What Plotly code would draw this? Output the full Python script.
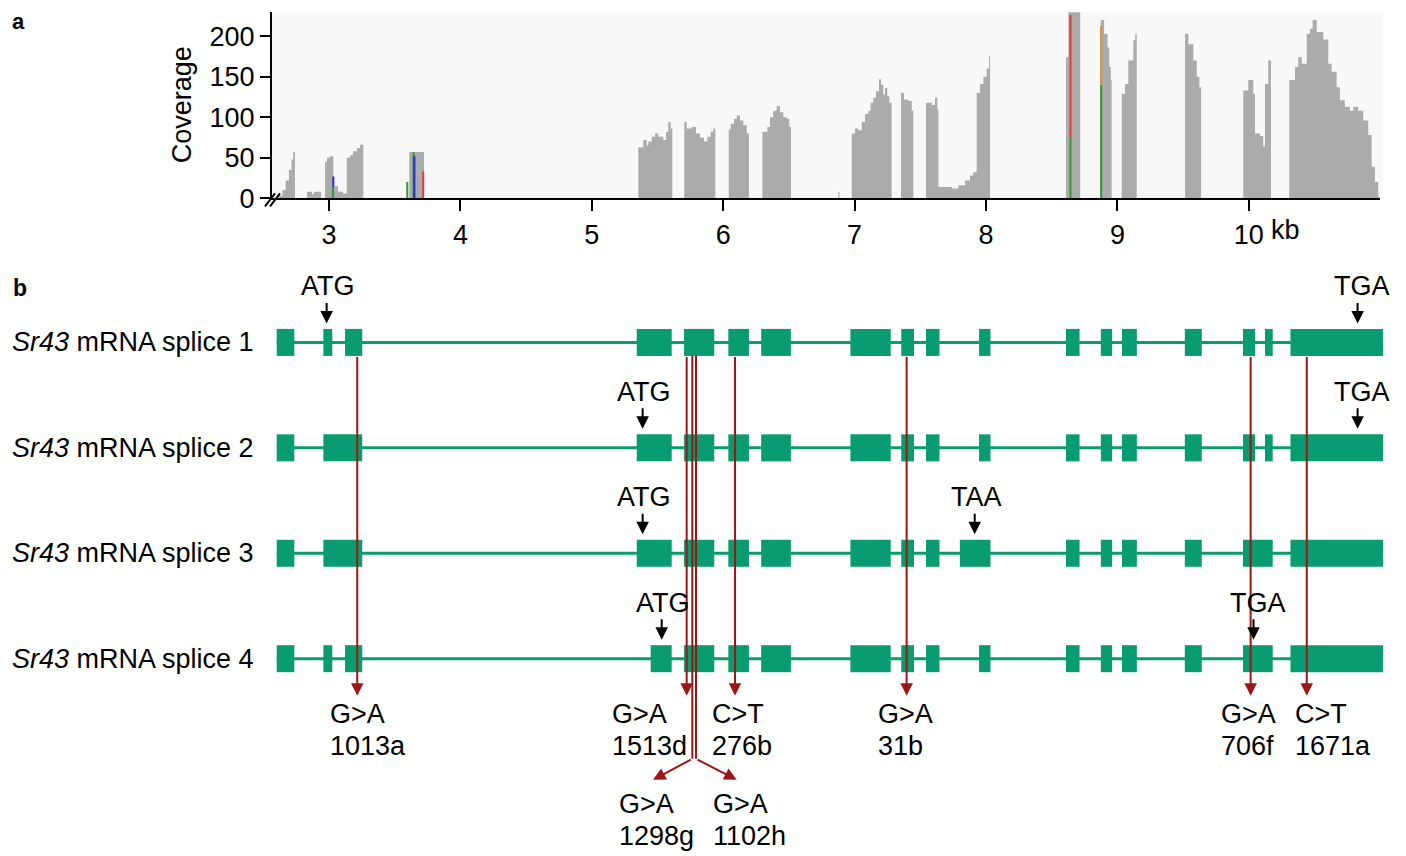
import plotly.graph_objects as go

# ---------------- data ----------------
# coverage profile (position in kb, read depth), step-wise
cov_kb = [2.566, 2.620, 2.645, 2.670, 2.695, 2.715, 2.728, 2.741,
          2.833, 2.871, 2.886, 2.939,
          2.970, 2.985, 3.008, 3.033, 3.068, 3.107, 3.135, 3.160, 3.183, 3.213, 3.236, 3.261,
          3.611, 3.723,
          5.354, 5.392, 5.418, 5.430, 5.456, 5.481, 5.506, 5.544, 5.565, 5.582, 5.600, 5.613,
          5.704, 5.722, 5.760, 5.793, 5.823, 5.854, 5.879, 5.905, 5.924, 5.940,
          6.042, 6.057, 6.082, 6.103, 6.128, 6.153, 6.179, 6.196,
          6.298, 6.336, 6.356, 6.381, 6.407, 6.432, 6.458, 6.483, 6.503, 6.516,
          6.876, 6.885,
          6.978, 7.003, 7.028, 7.054, 7.079, 7.104, 7.122, 7.142, 7.163, 7.186, 7.201, 7.218, 7.231, 7.249, 7.264, 7.282,
          7.353, 7.376, 7.409, 7.435, 7.447,
          7.543, 7.587, 7.612, 7.630, 7.638, 7.741, 7.790, 7.840, 7.878, 7.903,
          7.929, 7.954, 7.980, 8.005, 8.023, 8.031,
          8.609, 8.627, 8.710, 8.717,
          8.874, 8.899, 8.925, 8.938, 8.950, 8.956,
          9.033, 9.058, 9.083, 9.121, 9.136, 9.147,
          9.515, 9.540, 9.578, 9.604, 9.624, 9.637,
          9.958, 9.996, 10.034, 10.047, 10.085, 10.110, 10.123, 10.148, 10.169,
          10.308, 10.352, 10.377, 10.403, 10.441, 10.466, 10.486, 10.517, 10.542, 10.567, 10.605,
          10.630, 10.668, 10.693, 10.731, 10.769, 10.795, 10.833, 10.871, 10.909, 10.935, 10.960,
          10.985, 10.995]
cov_depth = [0, 3, 10, 22, 35, 48, 57, 0,
             8, 5, 8, 0,
             45, 50, 52, 15, 8, 6, 50, 53, 58, 62, 66, 0,
             57, 0,
             63, 72, 65, 70, 76, 80, 76, 72, 82, 94, 86, 0,
             94, 86, 88, 80, 75, 70, 76, 82, 86, 0,
             85, 92, 98, 102, 96, 90, 80, 0,
             82, 88, 100, 108, 114, 106, 100, 98, 88, 0,
             8, 0,
             80, 86, 84, 94, 104, 108, 118, 124, 132, 147, 140, 128, 136, 126, 118, 0,
             130, 122, 120, 108, 0,
             118, 115, 124, 110, 14, 12, 16, 22, 28, 32,
             130, 141, 150, 160, 176, 0,
             174, 240, 240, 0,
             220, 203, 186, 162, 146, 0,
             129, 141, 170, 195, 203, 0,
             203, 190, 170, 150, 137, 0,
             133, 146, 129, 80, 77, 64, 141, 170, 0,
             146, 162, 174, 166, 203, 209, 220, 205, 205, 196, 166,
             156, 137, 121, 113, 108, 113, 108, 96, 78, 39, 20,
             2, 0]

# variant allele bars in the coverage track
allele_kb = [3.030, 3.033, 3.596, 3.643, 3.650, 3.717, 8.643, 8.643, 8.876, 8.876]
allele_lo = [0, 14, 0, 0, 0, 0, 0, 76, 0, 140]
allele_hi = [14, 27, 20, 57, 52, 33, 76, 226, 140, 213]
allele_color = ["#2f9a2f", "#2a2ae0", "#2f9a2f", "#2f9a2f", "#2a2ae0", "#e03a3a",
                "#2f9a2f", "#e03a3a", "#2f9a2f", "#d9912e"]

x_tick_vals = [3, 4, 5, 6, 7, 8, 9, 10, 11]
x_tick_text = ["3", "4", "5", "6", "7", "8", "9", "10", ""]
y_tick_vals = [0, 50, 100, 150, 200]

# transcripts (exon start/end in kb)
transcript_names = ["<i>Sr43</i> mRNA splice 1", "<i>Sr43</i> mRNA splice 2",
                    "<i>Sr43</i> mRNA splice 3", "<i>Sr43</i> mRNA splice 4"]
common_tail = [(5.702, 5.932), (6.039, 6.196), (6.289, 6.515), (6.968, 7.275),
               (7.355, 7.452), (7.543, 7.646)]
exons_1 = [(2.602, 2.736), (2.957, 3.025), (3.122, 3.253), (5.342, 5.608)] + common_tail + \
          [(7.947, 8.034), (8.609, 8.712), (8.874, 8.960), (9.035, 9.148), (9.513, 9.642),
           (9.956, 10.047), (10.123, 10.182), (10.317, 11.021)]
exons_2 = [(2.602, 2.736), (2.957, 3.253), (5.342, 5.608)] + common_tail + \
          [(7.947, 8.034), (8.609, 8.712), (8.874, 8.960), (9.035, 9.148), (9.513, 9.642),
           (9.956, 10.047), (10.123, 10.182), (10.317, 11.021)]
exons_3 = [(2.602, 2.736), (2.957, 3.253), (5.342, 5.608)] + common_tail + \
          [(7.801, 8.034), (8.609, 8.712), (8.874, 8.960), (9.035, 9.148), (9.513, 9.642),
           (9.956, 10.182), (10.317, 11.021)]
exons_4 = [(2.602, 2.736), (2.957, 3.025), (3.122, 3.253), (5.448, 5.608)] + common_tail + \
          [(7.947, 8.034), (8.609, 8.712), (8.874, 8.960), (9.035, 9.148), (9.513, 9.642),
           (9.956, 10.182), (10.317, 11.021)]
exon_sets = [exons_1, exons_2, exons_3, exons_4]

# start / stop codons: (row, codon, arrow position kb, label centre kb)
codons = [(1, "ATG", 2.982, 2.992), (1, "TGA", 10.828, 10.861),
          (2, "ATG", 5.387, 5.397), (2, "TGA", 10.828, 10.861),
          (3, "ATG", 5.387, 5.397), (3, "TAA", 7.914, 7.924),
          (4, "ATG", 5.532, 5.542), (4, "TGA", 10.036, 10.070)]

# EMS mutations: position, change, mutant id, label left edge (kb)
mut_kb = [3.215, 5.722, 6.090, 7.396, 10.014, 10.441]
mut_change = ["G>A", "G>A", "C>T", "G>A", "G>A", "C>T"]
mut_id = ["1013a", "1513d", "276b", "31b", "706f", "1671a"]
mut_label_kb = [3.008, 5.151, 5.912, 7.176, 9.786, 10.352]
# two mutations whose arrows branch off below
branch_kb = [5.765, 5.793]
branch_tip_kb = [5.466, 6.103]
branch_change = ["G>A", "G>A"]
branch_id = ["1298g", "1102h"]
branch_label_kb = [5.207, 5.922]

# ---------------- styling ----------------
FONT = "Liberation Sans, Arial, Helvetica, sans-serif"
FS = 27
GREEN = "#0a9c71"
RED = "#9e1515"
PAD = 8                                  # default page margin around the figure
W, H = 1406 - 2 * PAD, 856               # figure size
VS = (H + 2 * PAD) / 856                 # vertical design scale of the page
PX_PER_KB = 131.4


def px(xp):
    """paper x for a target pixel column"""
    return (xp - PAD) / W


def fy(yp):
    """figure pixel row for a target pixel row"""
    return yp * VS - PAD


def py(yp):
    """paper y for a target pixel row"""
    return 1 - fy(yp) / H


def v(yp):
    """row-axis value (panel b) for a target pixel row"""
    return 1 + (yp - 342) / 105.33


fig = go.Figure()

# coverage
fig.add_trace(go.Scatter(x=cov_kb, y=cov_depth, mode="lines", line_shape="hv",
                         fill="tozeroy", fillcolor="#ababab",
                         line=dict(width=0, color="#ababab"),
                         hoverinfo="skip", showlegend=False))
for k, lo, hi, c in zip(allele_kb, allele_lo, allele_hi, allele_color):
    fig.add_trace(go.Scatter(x=[k, k], y=[lo, hi], mode="lines",
                             line=dict(color=c, width=2), showlegend=False, hoverinfo="skip"))

# introns
for r, ex in enumerate(exon_sets, start=1):
    fig.add_trace(go.Scatter(x=[ex[0][0], ex[-1][1]], y=[r, r], mode="lines",
                             line=dict(color=GREEN, width=3), xaxis="x2", yaxis="y2",
                             showlegend=False, hoverinfo="skip"))
# exons as horizontal bars
for r, ex in enumerate(exon_sets, start=1):
    fig.add_trace(go.Bar(orientation="h", y=[r] * len(ex), base=[a for a, b in ex],
                         x=[b - a for a, b in ex], width=27 / 105.33,
                         marker=dict(color=GREEN, line=dict(width=0)),
                         xaxis="x2", yaxis="y2", showlegend=False, hoverinfo="skip"))

# branched mutation stems
for k in branch_kb:
    fig.add_trace(go.Scatter(x=[k, k], y=[v(355), v(758)], mode="lines",
                             line=dict(color=RED, width=2), xaxis="x2", yaxis="y2",
                             showlegend=False, hoverinfo="skip"))

ann = []
ref = dict(xref="x2", yref="y2", axref="x2", ayref="y2")
txt = dict(size=FS, family=FONT, color="black")
for k in mut_kb:
    ann.append(dict(x=k, y=v(695), ax=k, ay=v(355), text="", showarrow=True,
                    arrowhead=2, arrowsize=1.25, arrowwidth=2, arrowcolor=RED, **ref))
for k, t in zip(branch_kb, branch_tip_kb):
    ann.append(dict(x=t, y=v(779), ax=k, ay=v(758), text="", showarrow=True,
                    arrowhead=2, arrowsize=1.25, arrowwidth=2, arrowcolor=RED, **ref))
for lx, ch, mid in zip(mut_label_kb, mut_change, mut_id):
    ann.append(dict(x=lx, y=v(713), text=ch.replace(">", "&gt;"), showarrow=False,
                    xanchor="left", yanchor="middle", xref="x2", yref="y2", font=txt,
                    xshift=-2))
    ann.append(dict(x=lx, y=v(745), text=mid, showarrow=False,
                    xanchor="left", yanchor="middle", xref="x2", yref="y2", font=txt,
                    xshift=-2))
for lx, ch, mid in zip(branch_label_kb, branch_change, branch_id):
    ann.append(dict(x=lx, y=v(803), text=ch.replace(">", "&gt;"), showarrow=False,
                    xanchor="left", yanchor="middle", xref="x2", yref="y2", font=txt,
                    xshift=-2))
    ann.append(dict(x=lx, y=v(835), text=mid, showarrow=False,
                    xanchor="left", yanchor="middle", xref="x2", yref="y2", font=txt,
                    xshift=-2))

# codon arrows
for r, cod, ak, lk in codons:
    yrow = 342 + (r - 1) * 105.33
    ann.append(dict(x=ak, y=v(yrow - 19), ax=ak, ay=v(yrow - 41), text="", showarrow=True,
                    arrowhead=2, arrowsize=1.25, arrowwidth=2, arrowcolor="black", **ref))
    ann.append(dict(x=lk, y=v(yrow - 56), text=cod, showarrow=False,
                    xanchor="center", yanchor="middle", xref="x2", yref="y2", font=txt))

# transcript names
for r, name in enumerate(transcript_names, start=1):
    ann.append(dict(x=px(10), y=r, xref="paper", yref="y2", text=name, showarrow=False,
                    xanchor="left", yanchor="middle", font=txt))

# panel letters, axis title, kb unit
ann.append(dict(x=px(11), y=1, xref="paper", yref="paper", text="<b>a</b>",
                showarrow=False, xanchor="left", yanchor="top", borderpad=0,
                font=dict(size=22, family=FONT, color="black")))
ann.append(dict(x=px(11), y=py(288), xref="paper", yref="paper", text="<b>b</b>",
                showarrow=False, xanchor="left", yanchor="middle",
                font=dict(size=23, family=FONT, color="black")))
ann.append(dict(x=px(182), y=py(104), xref="paper", yref="paper", text="Coverage",
                textangle=-90, showarrow=False, xanchor="center", yanchor="middle", font=txt))
ann.append(dict(x=10 + 20 / PX_PER_KB, y=py(230), xref="x", yref="paper", text="kb",
                showarrow=False, xanchor="left", yanchor="middle", font=txt))

shapes = [
    dict(type="rect", xref="x domain", yref="y domain", x0=0, x1=1.003, y0=0, y1=1,
         fillcolor="#f8f8f8", line=dict(width=0), layer="below"),
    # axis break marks
    dict(type="line", xref="paper", yref="paper", x0=px(265), x1=px(275),
         y0=py(206), y1=py(193), line=dict(color="black", width=2)),
    dict(type="line", xref="paper", yref="paper", x0=px(270), x1=px(280),
         y0=py(206), y1=py(193), line=dict(color="black", width=2)),
]

bottom_target = (H + PAD) / VS           # target pixel row at the figure's bottom edge

fig.update_layout(
    width=W, height=H, margin=dict(l=0, r=0, t=0, b=0),
    paper_bgcolor="white", plot_bgcolor="rgba(0,0,0,0)",
    barmode="overlay", showlegend=False,
    font=dict(family=FONT, size=FS, color="black"),
    xaxis=dict(domain=[px(272), px(1380)],
               range=[3 - 57 / PX_PER_KB, 3 + 1051 / PX_PER_KB],
               anchor="y", tickmode="array", tickvals=x_tick_vals, ticktext=x_tick_text,
               ticks="outside", ticklen=11, tickwidth=2, tickcolor="black",
               showline=True, linecolor="black", linewidth=2, showgrid=False, zeroline=False,
               tickfont=txt),
    yaxis=dict(domain=[py(198), py(12)], range=[0, 186 / 0.81], anchor="x",
               tickmode="array", tickvals=y_tick_vals, ticks="outside", ticklen=10,
               tickwidth=2, tickcolor="black", showline=True, linecolor="black", linewidth=2,
               showgrid=False, zeroline=False, tickfont=txt),
    xaxis2=dict(domain=[0, 1],
                range=[3 - (329 - PAD) / PX_PER_KB, 3 + (1406 - PAD - 329) / PX_PER_KB],
                anchor="y2", visible=False),
    yaxis2=dict(domain=[0, py(240)], range=[v(bottom_target), v(240)], anchor="x2",
                visible=False),
    annotations=ann, shapes=shapes,
)

fig.write_html("out.html", config={"displayModeBar": False})
